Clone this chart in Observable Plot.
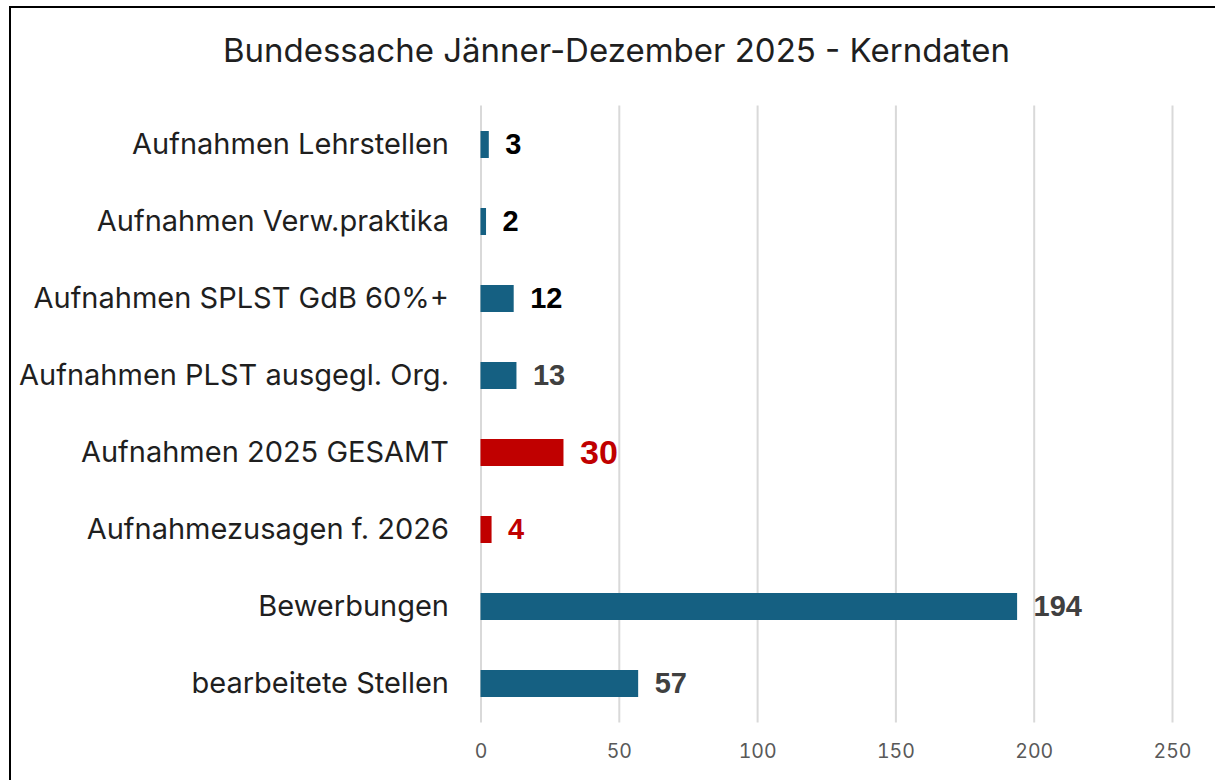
<!DOCTYPE html>
<html>
<head>
<meta charset="utf-8">
<script src="https://cdn.jsdelivr.net/npm/d3@7"></script>
<script src="https://cdn.jsdelivr.net/npm/@observablehq/plot@0.6"></script>
<style>
  html, body { margin: 0; padding: 0; background: #fff; }
  #page { position: relative; width: 1215px; height: 780px; overflow: hidden; background: #fff; }
  #frame { position: absolute; left: 9px; top: 6px; width: 1300px; height: 900px; border: 2px solid #000; box-sizing: border-box; }
  #title { position: absolute; left: 9px; top: 29px; width: 1215px; text-align: center;
           font-family: Inter, "Noto Sans", sans-serif; font-size: 33px; line-height: 42px; color: #1f1f1f; }
  #chart { position: absolute; left: 0; top: 80px; }
</style>
</head>
<body>
<div id="page">
  <div id="frame"></div>
  <div id="title">Bundessache Jänner-Dezember 2025 - Kerndaten</div>
  <div id="chart"></div>
</div>
<script>
const categories = [
  "Aufnahmen Lehrstellen",
  "Aufnahmen Verw.praktika",
  "Aufnahmen SPLST GdB 60%+",
  "Aufnahmen PLST ausgegl. Org.",
  "Aufnahmen 2025 GESAMT",
  "Aufnahmezusagen f. 2026",
  "Bewerbungen",
  "bearbeitete Stellen"
];
const values = [3, 2, 12, 13, 30, 4, 194, 57];
const groups = ["detail", "detail", "detail", "detail", "total", "total", "other", "other"];
const xTicks = [0, 50, 100, 150, 200, 250];

// styles (kept apart from the data)
const barColor = {detail: "#156082", total: "#C00000", other: "#156082"};
const labelColors = ["#000000", "#000000", "#000000", "#404040", "#C00000", "#C00000", "#404040", "#404040"];
const labelSizes = [29, 29, 29, 29, 34, 29, 29, 29];

const data = categories.map((c, i) => ({
  category: c, value: values[i], group: groups[i],
  labelColor: labelColors[i], labelSize: labelSizes[i]
}));

const chart = Plot.plot({
  width: 1215,
  height: 700,
  marginLeft: 480.5,
  marginRight: 43,
  marginTop: 25.4,
  marginBottom: 57.4,
  style: { fontFamily: "Inter, 'Noto Sans', sans-serif", background: "transparent" },
  x: { domain: [0, 250], ticks: xTicks, label: null },
  y: { domain: categories, label: null, paddingInner: 0.65, paddingOuter: 0.325 },
  color: { type: "identity" },
  marks: [
    Plot.gridX(xTicks, { stroke: "#d9d9d9", strokeOpacity: 1, strokeWidth: 2 }),
    Plot.axisX({ ticks: xTicks, tickSize: 0, tickPadding: 21, fontSize: 19.5, fill: "#595959", label: null }),
    Plot.axisY({ tickSize: 0, tickPadding: 32, fontSize: 29, fill: "#1f1f1f", label: null }),
    Plot.barX(data, { x: "value", y: "category", fill: d => barColor[d.group] }),
    Plot.text(data, {
      x: "value", y: "category", text: d => String(d.value),
      textAnchor: "start", dx: 16, fontWeight: "bold",
      fontFamily: "'Liberation Sans', Arial, sans-serif",
      fill: d => d.labelColor, fontSize: d => d.labelSize
    })
  ]
});
document.getElementById("chart").appendChild(chart);
</script>
</body>
</html>
